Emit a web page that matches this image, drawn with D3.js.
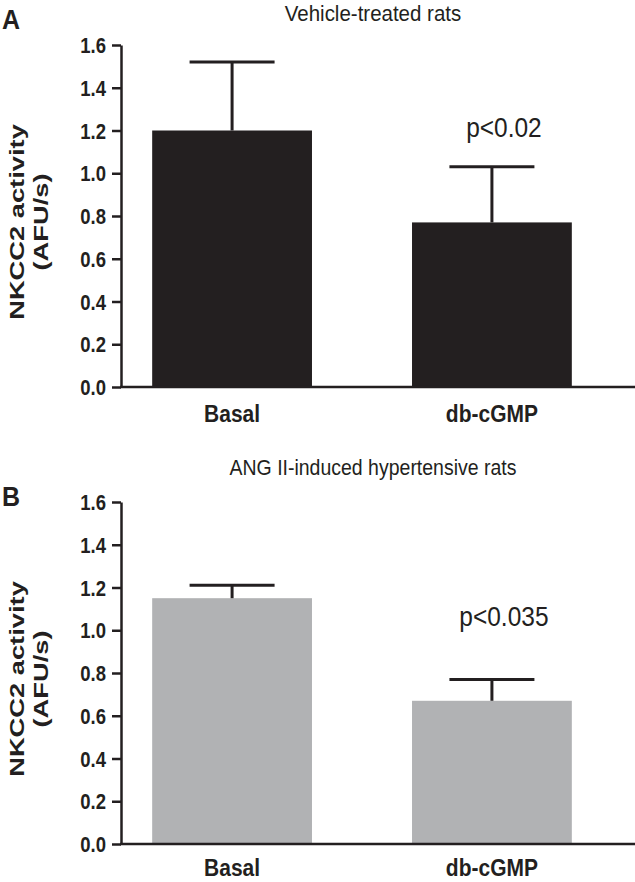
<!DOCTYPE html>
<html>
<head>
<meta charset="utf-8">
<script src="https://cdn.jsdelivr.net/npm/d3@7"></script>
<style>
  html, body { margin: 0; padding: 0; background: #fff; }
  svg { display: block; }
  text { font-family: "Liberation Sans", Arial, Helvetica, sans-serif; fill: #231f20; }
</style>
</head>
<body>
<svg id="chart" width="635" height="882"></svg>
<script>
const categories = ["Basal", "db-cGMP"];
const vehicleMeans = [1.20, 0.77];
const vehicleErrTops = [1.52, 1.03];
const angMeans = [1.15, 0.67];
const angErrTops = [1.21, 0.77];
const yTicks = [0.0, 0.2, 0.4, 0.6, 0.8, 1.0, 1.2, 1.4, 1.6];
const panels = [
  { letter: "A", title: "Vehicle-treated rats", titleSize: 20.5, means: vehicleMeans, errs: vehicleErrTops, pText: "p<0.02", color: "#231f20" },
  { letter: "B", title: "ANG II-induced hypertensive rats", titleSize: 19.5, means: angMeans, errs: angErrTops, pText: "p<0.035", color: "#b1b2b4" }
];

const svg = d3.select("#chart");
const ink = "#231f20";
const FONT = "'Liberation Sans', Arial, sans-serif";
const layout = [
  { top: 45, bottom: 387, titleY: 21, letterY: 29, pY: 137, labelOff: 35 },
  { top: 502, bottom: 844, titleY: 475, letterY: 506, pY: 626, labelOff: 32 }
];

panels.forEach((p, i) => {
  const L = layout[i];
  const g = svg.append("g");
  const y = d3.scaleLinear().domain([0, 1.6]).range([L.bottom, L.top]);
  const x = d3.scaleBand().domain(categories).range([121, 603]).paddingInner(0.385).paddingOuter(0.12);

  // bars
  g.selectAll("rect.bar").data(categories).join("rect")
    .attr("class", "bar")
    .attr("x", d => x(d)).attr("width", x.bandwidth())
    .attr("y", (d, j) => y(p.means[j]))
    .attr("height", (d, j) => y(0) - y(p.means[j]))
    .attr("fill", p.color);

  // error bars
  const capW = 85;
  categories.forEach((c, j) => {
    const cx = x(c) + x.bandwidth() / 2;
    g.append("line").attr("x1", cx).attr("x2", cx)
      .attr("y1", y(p.means[j])).attr("y2", y(p.errs[j]))
      .attr("stroke", ink).attr("stroke-width", 3);
    g.append("line").attr("x1", cx - capW / 2).attr("x2", cx + capW / 2)
      .attr("y1", y(p.errs[j])).attr("y2", y(p.errs[j]))
      .attr("stroke", ink).attr("stroke-width", 3);
  });

  // y axis
  const yAxis = d3.axisLeft(y).tickValues(yTicks).tickFormat(d3.format(".1f")).tickSize(9).tickSizeOuter(0);
  const ya = g.append("g").attr("transform", "translate(121,0)").call(yAxis);
  ya.select(".domain").attr("stroke", ink).attr("stroke-width", 2.5);
  ya.selectAll(".tick line").attr("stroke", ink).attr("stroke-width", 2.5);
  ya.selectAll(".tick text")
    .attr("x", null).attr("dy", null)
    .attr("transform", "translate(-15,7.5) scale(1,1.2)")
    .attr("font-size", 18.5).attr("font-weight", "bold").attr("fill", ink)
    .style("font-family", FONT);

  // x axis
  const xa = g.append("g").attr("transform", `translate(0,${L.bottom})`)
    .call(d3.axisBottom(x).tickSize(0));
  xa.select(".domain").remove();
  xa.selectAll(".tick text")
    .attr("y", null).attr("dy", null)
    .attr("transform", `translate(0,${L.labelOff}) scale(1,1.1)`)
    .attr("font-size", 21).attr("font-weight", "bold").attr("fill", ink)
    .style("font-family", FONT);
  g.append("line").attr("x1", 120).attr("x2", 635).attr("y1", L.bottom).attr("y2", L.bottom)
    .attr("stroke", ink).attr("stroke-width", 2.5);

  // y title
  const cy = (L.top + L.bottom) / 2 + 6;
  g.append("text").attr("transform", `translate(24,${cy}) rotate(-90) scale(1.3,1)`)
    .attr("text-anchor", "middle").attr("font-size", 21).attr("font-weight", "bold").text("NKCC2 activity");
  g.append("text").attr("transform", `translate(48,${cy}) rotate(-90) scale(1.3,1)`)
    .attr("text-anchor", "middle").attr("font-size", 21).attr("font-weight", "bold").text("(AFU/s)");

  // panel title
  g.append("text").attr("transform", `translate(373,${L.titleY}) scale(1,1.1)`).attr("text-anchor", "middle")
    .attr("font-size", p.titleSize).text(p.title);
  // panel letter
  g.append("text").attr("transform", `translate(2,${L.letterY}) scale(1,1.1)`)
    .attr("font-size", 25).attr("font-weight", "bold").text(p.letter);
  // p value
  const cx2 = x(categories[1]) + x.bandwidth() / 2;
  g.append("text").attr("transform", `translate(${cx2 + 12},${L.pY}) scale(1,1.15)`).attr("text-anchor", "middle")
    .attr("font-size", 24.5).text(p.pText);
});
</script>
</body>
</html>
